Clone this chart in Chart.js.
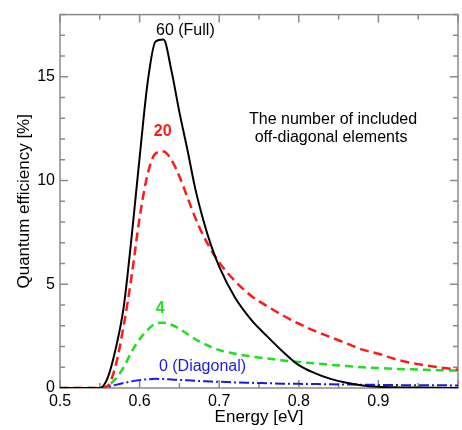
<!DOCTYPE html>
<html>
<head>
<meta charset="utf-8">
<script src="https://cdn.jsdelivr.net/npm/chart.js@4.4.1/dist/chart.umd.min.js"></script>
<style>
  html, body { margin: 0; padding: 0; background: #fff; }
  canvas { display: block; }
</style>
</head>
<body>
<canvas id="qe" width="462" height="430"></canvas>
<script>
// photon energy (eV), shared by every curve
const energy = [0.50, 0.55, 0.56, 0.57, 0.58, 0.59, 0.60, 0.61, 0.62, 0.63, 0.64, 0.65, 0.66, 0.67, 0.68, 0.69,
  0.70, 0.72, 0.74, 0.76, 0.78, 0.80, 0.82, 0.84, 0.86, 0.88, 0.90, 0.925, 0.95, 0.975, 1.00];

// quantum efficiency (%) for 60 / 20 / 4 / 0 off-diagonal elements
const qeFull = [0, 0, 0.5, 1.9, 3.9, 7.3, 11.1, 14.7, 16.7, 16.8, 15.3, 13.3, 11.5, 9.6, 8.1, 6.85,
  5.85, 4.35, 3.3, 2.5, 1.75, 1.1, 0.72, 0.44, 0.25, 0.12, 0.06, 0.03, 0.02, 0.01, 0];
const qe20 = [0, 0, 0.1, 1.1, 3.0, 5.4, 8.2, 10.3, 11.3, 11.4, 11.0, 10.2, 9.2, 8.2, 7.35, 6.65,
  6.05, 5.15, 4.45, 3.95, 3.5, 3.1, 2.75, 2.45, 2.15, 1.85, 1.65, 1.35, 1.15, 1.0, 0.88];
const qe4 = [0, 0, 0.1, 0.45, 1.0, 1.75, 2.35, 2.8, 3.1, 3.15, 3.05, 2.85, 2.6, 2.35, 2.15, 1.97,
  1.83, 1.65, 1.52, 1.42, 1.33, 1.25, 1.19, 1.12, 1.06, 1.0, 0.96, 0.92, 0.89, 0.86, 0.84];
const qeDiag = [0, 0, 0.05, 0.15, 0.24, 0.32, 0.38, 0.42, 0.44, 0.43, 0.41, 0.39, 0.37, 0.35, 0.33, 0.31,
  0.30, 0.27, 0.25, 0.23, 0.21, 0.20, 0.19, 0.18, 0.17, 0.16, 0.15, 0.14, 0.13, 0.13, 0.12];

const FONT = "'Liberation Sans', Arial, sans-serif";
const FRAME = '#8a8a8a';

const toPoints = vals => energy.map((e, i) => ({ x: e, y: vals[i] }));

// curve labels and the note, anchored in data units
const curveLabels = [
  { text: '60 (Full)', x: 0.6575, y: 17.25, color: '#000', weight: 'normal' },
  { text: '20', x: 0.629, y: 12.35, color: '#ff1a1a', weight: 'bold' },
  { text: '4', x: 0.626, y: 3.85, color: '#22dd22', weight: 'bold' },
  { text: '0 (Diagonal)', x: 0.679, y: 1.02, color: '#1a1ae6', weight: 'normal' },
  { text: 'The number of included', x: 0.843, y: 12.95, color: '#000', weight: 'normal' },
  { text: 'off-diagonal elements', x: 0.8405, y: 12.05, color: '#000', weight: 'normal' }
];

// box frame with inward ticks on all four sides, like the original plot
const frameTicks = {
  id: 'frameTicks',
  beforeDatasetsDraw(chart) {
    const { ctx, chartArea: a, scales: { x, y } } = chart;
    ctx.save();
    ctx.strokeStyle = FRAME;
    ctx.lineWidth = 1.5;
    ctx.strokeRect(a.left, a.top, a.right - a.left, a.bottom - a.top);
    ctx.beginPath();
    for (let i = 0; i <= 10; i++) {
      const px = x.getPixelForValue(0.5 + i * 0.05);
      const len = i % 2 === 0 ? 8 : 5;
      ctx.moveTo(px, a.bottom); ctx.lineTo(px, a.bottom - len);
      ctx.moveTo(px, a.top); ctx.lineTo(px, a.top + len);
    }
    for (let v = 0; v <= 18; v++) {
      const py = y.getPixelForValue(v);
      const len = v % 5 === 0 ? 8 : 5;
      ctx.moveTo(a.left, py); ctx.lineTo(a.left + len, py);
      ctx.moveTo(a.right, py); ctx.lineTo(a.right - len, py);
    }
    ctx.stroke();
    ctx.restore();
  },
  afterDatasetsDraw(chart) {
    const { ctx, scales: { x, y } } = chart;
    ctx.save();
    ctx.textAlign = 'center';
    ctx.textBaseline = 'middle';
    curveLabels.forEach(l => {
      ctx.font = `${l.weight} 16px ${FONT}`;
      ctx.fillStyle = l.color;
      ctx.fillText(l.text, x.getPixelForValue(l.x), y.getPixelForValue(l.y));
    });
    ctx.restore();
  }
};

new Chart(document.getElementById('qe'), {
  type: 'line',
  data: {
    datasets: [
      {
        label: '60 (Full)',
        data: toPoints(qeFull),
        borderColor: '#000',
        borderWidth: 2,
        pointRadius: 0,
        cubicInterpolationMode: 'monotone'
      },
      {
        label: '20',
        data: toPoints(qe20),
        borderColor: '#ff1a1a',
        borderWidth: 2.5,
        borderDash: [9, 5],
        pointRadius: 0,
        cubicInterpolationMode: 'monotone'
      },
      {
        label: '4',
        data: toPoints(qe4),
        borderColor: '#22dd22',
        borderWidth: 2.5,
        borderDash: [8, 5],
        pointRadius: 0,
        cubicInterpolationMode: 'monotone'
      },
      {
        label: '0 (Diagonal)',
        data: toPoints(qeDiag),
        borderColor: '#1a1ae6',
        borderWidth: 2,
        borderDash: [10, 3, 2, 3],
        pointRadius: 0,
        cubicInterpolationMode: 'monotone'
      }
    ]
  },
  options: {
    responsive: false,
    animation: false,
    layout: { padding: { left: 0, right: 1, top: 5, bottom: 0 } },
    plugins: {
      legend: { display: false },
      tooltip: { enabled: false }
    },
    scales: {
      x: {
        type: 'linear',
        min: 0.5,
        max: 1.0,
        grid: { display: false, drawTicks: false },
        border: { display: false },
        ticks: {
          stepSize: 0.1,
          maxRotation: 0,
          autoSkip: false,
          padding: 4,
          color: '#000',
          font: { family: FONT, size: 16 },
          callback: v => (v > 0.99 ? '' : Number(v).toFixed(1))
        },
        title: {
          display: true,
          text: 'Energy [eV]',
          color: '#000',
          font: { family: FONT, size: 17 },
          padding: { top: 0, bottom: 2 }
        },
        afterFit: s => { s.height = 42; }
      },
      y: {
        min: 0,
        max: 18,
        grid: { display: false, drawTicks: false },
        border: { display: false },
        ticks: {
          stepSize: 5,
          padding: 5,
          color: '#000',
          font: { family: FONT, size: 16 },
          callback: v => (v % 5 === 0 ? String(v) : '')
        },
        title: {
          display: true,
          text: 'Quantum efficiency [%]',
          color: '#000',
          font: { family: FONT, size: 17 },
          padding: { top: 14, bottom: 0 }
        },
        afterFit: s => { s.width = 60; }
      }
    }
  },
  plugins: [frameTicks]
});
</script>
</body>
</html>
